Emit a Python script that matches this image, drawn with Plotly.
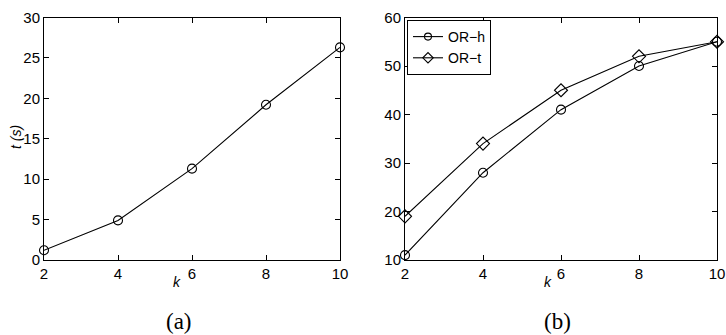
import plotly.graph_objects as go

k = [2, 4, 6, 8, 10]
t_seconds = [1.2, 4.9, 11.3, 19.2, 26.3]
or_h = [11, 28, 41, 50, 55]
or_t = [19, 34, 45, 52, 55]

W, H = 726, 335
FONT = "Liberation Sans, Arial, Helvetica, sans-serif"
SERIF = "Liberation Serif, Times New Roman, serif"

fig = go.Figure()
line = dict(color="black", width=1.1)

def mk(symbol, size):
    return dict(symbol=symbol, size=size, color="black", line=dict(width=1.1, color="black"))

fig.add_trace(go.Scatter(x=k, y=t_seconds, mode="lines+markers", line=line, marker=mk("circle-open", 9),
                         xaxis="x", yaxis="y", showlegend=False, cliponaxis=False))
fig.add_trace(go.Scatter(x=k, y=or_h, mode="lines+markers", name="OR\u2212h", line=line, marker=mk("circle-open", 9),
                         xaxis="x2", yaxis="y2", showlegend=False, cliponaxis=False))
fig.add_trace(go.Scatter(x=k, y=or_t, mode="lines+markers", name="OR\u2212t", line=line, marker=mk("diamond-open", 10),
                         xaxis="x2", yaxis="y2", showlegend=False, cliponaxis=False))
# legend entries (smaller symbols as in the reference)
fig.add_trace(go.Scatter(x=[None], y=[None], mode="lines+markers", name="OR\u2212h", line=line, marker=mk("circle-open", 7),
                         xaxis="x2", yaxis="y2", showlegend=True))
fig.add_trace(go.Scatter(x=[None], y=[None], mode="lines+markers", name="OR\u2212t", line=line, marker=mk("diamond-open", 8),
                         xaxis="x2", yaxis="y2", showlegend=True))

def px_x(p): return p / W
def px_y(p): return 1 - p / H

ax_common = dict(showline=True, linecolor="black", linewidth=1, mirror="ticks",
                 ticks="inside", ticklen=5, tickcolor="black", showgrid=False, zeroline=False,
                 automargin=False, ticklabeloverflow="allow",
                 tickfont=dict(family=FONT, size=15, color="black"))

ydom = [px_y(260), px_y(17.5)]
fig.update_layout(
    template="none",
    width=W, height=H, margin=dict(l=0, r=0, t=0, b=0, pad=0),
    paper_bgcolor="white", plot_bgcolor="white",
    xaxis=dict(domain=[px_x(44), px_x(340)], range=[2, 10], tickvals=k, anchor="y", **ax_common),
    yaxis=dict(domain=ydom, range=[0, 30], tickvals=[0, 5, 10, 15, 20, 25, 30], anchor="x", **ax_common),
    xaxis2=dict(domain=[px_x(405), px_x(717)], range=[2, 10], tickvals=k, anchor="y2", **ax_common),
    yaxis2=dict(domain=ydom, range=[10, 60], tickvals=[10, 20, 30, 40, 50, 60], anchor="x2", **ax_common),
    legend=dict(x=px_x(407), y=px_y(20), xanchor="left", yanchor="top",
                bordercolor="black", borderwidth=1, bgcolor="white",
                font=dict(family=FONT, size=14, color="black"),
                tracegroupgap=0, itemwidth=30),
    showlegend=True,
)

annos = [
    dict(text="<i>k</i>", x=px_x(177), y=px_y(282), size=14, fam=FONT, angle=0),
    dict(text="<i>k</i>", x=px_x(548), y=px_y(282), size=14, fam=FONT, angle=0),
    dict(text="<i>t (s)</i>", x=px_x(16), y=px_y(137), size=14, fam=FONT, angle=-90),
    dict(text="(a)", x=px_x(179), y=px_y(321), size=23, fam=SERIF, angle=0),
    dict(text="(b)", x=px_x(557), y=px_y(321), size=23, fam=SERIF, angle=0),
]
for a in annos:
    fig.add_annotation(text=a["text"], x=a["x"], y=a["y"], xref="paper", yref="paper",
                       showarrow=False, textangle=a["angle"], xanchor="center", yanchor="middle",
                       font=dict(family=a["fam"], size=a["size"], color="black"))

fig.write_html("out.html", config={"displayModeBar": False},
               post_script="document.body.style.margin='0';document.body.style.overflow='hidden';")
